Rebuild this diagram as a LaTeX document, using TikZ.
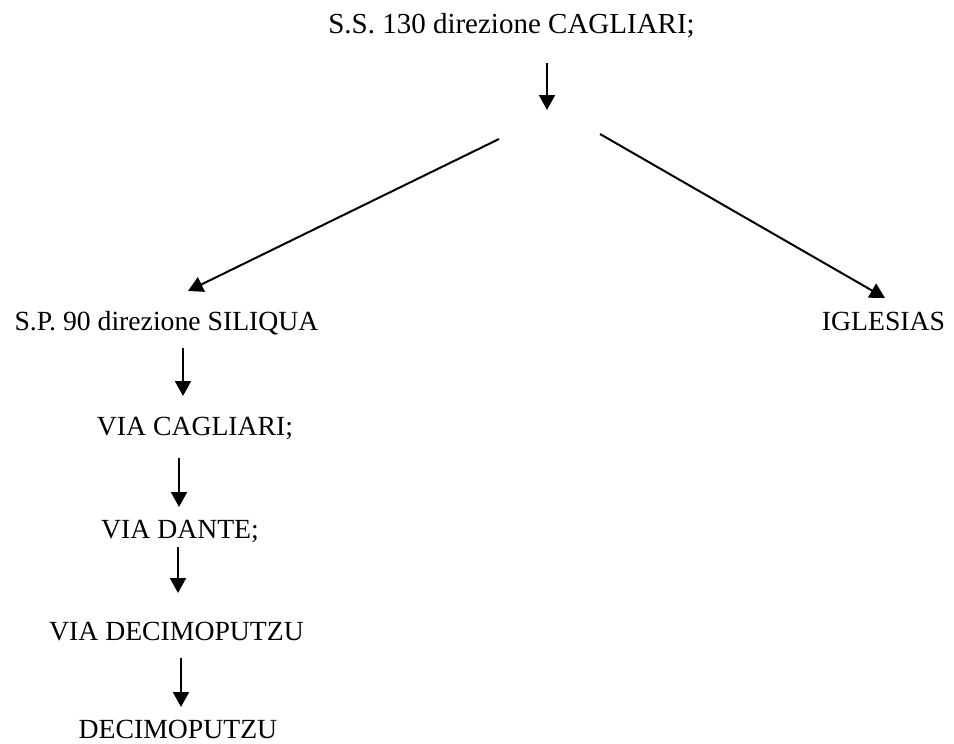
\documentclass[tikz,border=0pt]{standalone}
\usepackage{fontspec}
\setmainfont{Liberation Serif}
\usetikzlibrary{arrows.meta}
\begin{document}
\begin{tikzpicture}[x=1pt,y=-1pt,
  lbl/.style={anchor=base,inner sep=0pt,font=\fontsize{27.7}{33}\selectfont},
  arr/.style={line width=2pt,-{Triangle[length=15pt,width=16pt]}}]
\useasboundingbox (0,0) rectangle (954,744);
\node[lbl,font=\fontsize{29}{34}\selectfont] (ss) at (511.5,33) {S.S. 130 direzione CAGLIARI;};
\node[lbl] (sp) at (166.5,330) {S.P. 90 direzione SILIQUA};
\node[lbl] (ig) at (883.5,330) {IGLESIAS};
\node[lbl] (vc) at (195,435) {VIA CAGLIARI;};
\node[lbl] (vd) at (180,538) {VIA DANTE;};
\node[lbl] (vdp) at (176.5,640) {VIA DECIMOPUTZU};
\node[lbl] (dp) at (178,738) {DECIMOPUTZU};
\coordinate (a1s) at (547,63);  \coordinate (a1e) at (547,110);
\coordinate (bls) at (499,139); \coordinate (ble) at (188,291);
\coordinate (brs) at (600,134); \coordinate (bre) at (885,298);
\coordinate (a2s) at (183,348); \coordinate (a2e) at (183,396);
\coordinate (a3s) at (179,458); \coordinate (a3e) at (179,507);
\coordinate (a4s) at (178,547); \coordinate (a4e) at (178,593);
\coordinate (a5s) at (181,658); \coordinate (a5e) at (181,707);
\draw[arr] (a1s) -- (a1e);
\draw[arr] (bls) -- (ble);
\draw[arr] (brs) -- (bre);
\draw[arr] (a2s) -- (a2e);
\draw[arr] (a3s) -- (a3e);
\draw[arr] (a4s) -- (a4e);
\draw[arr] (a5s) -- (a5e);
\end{tikzpicture}
\end{document}
